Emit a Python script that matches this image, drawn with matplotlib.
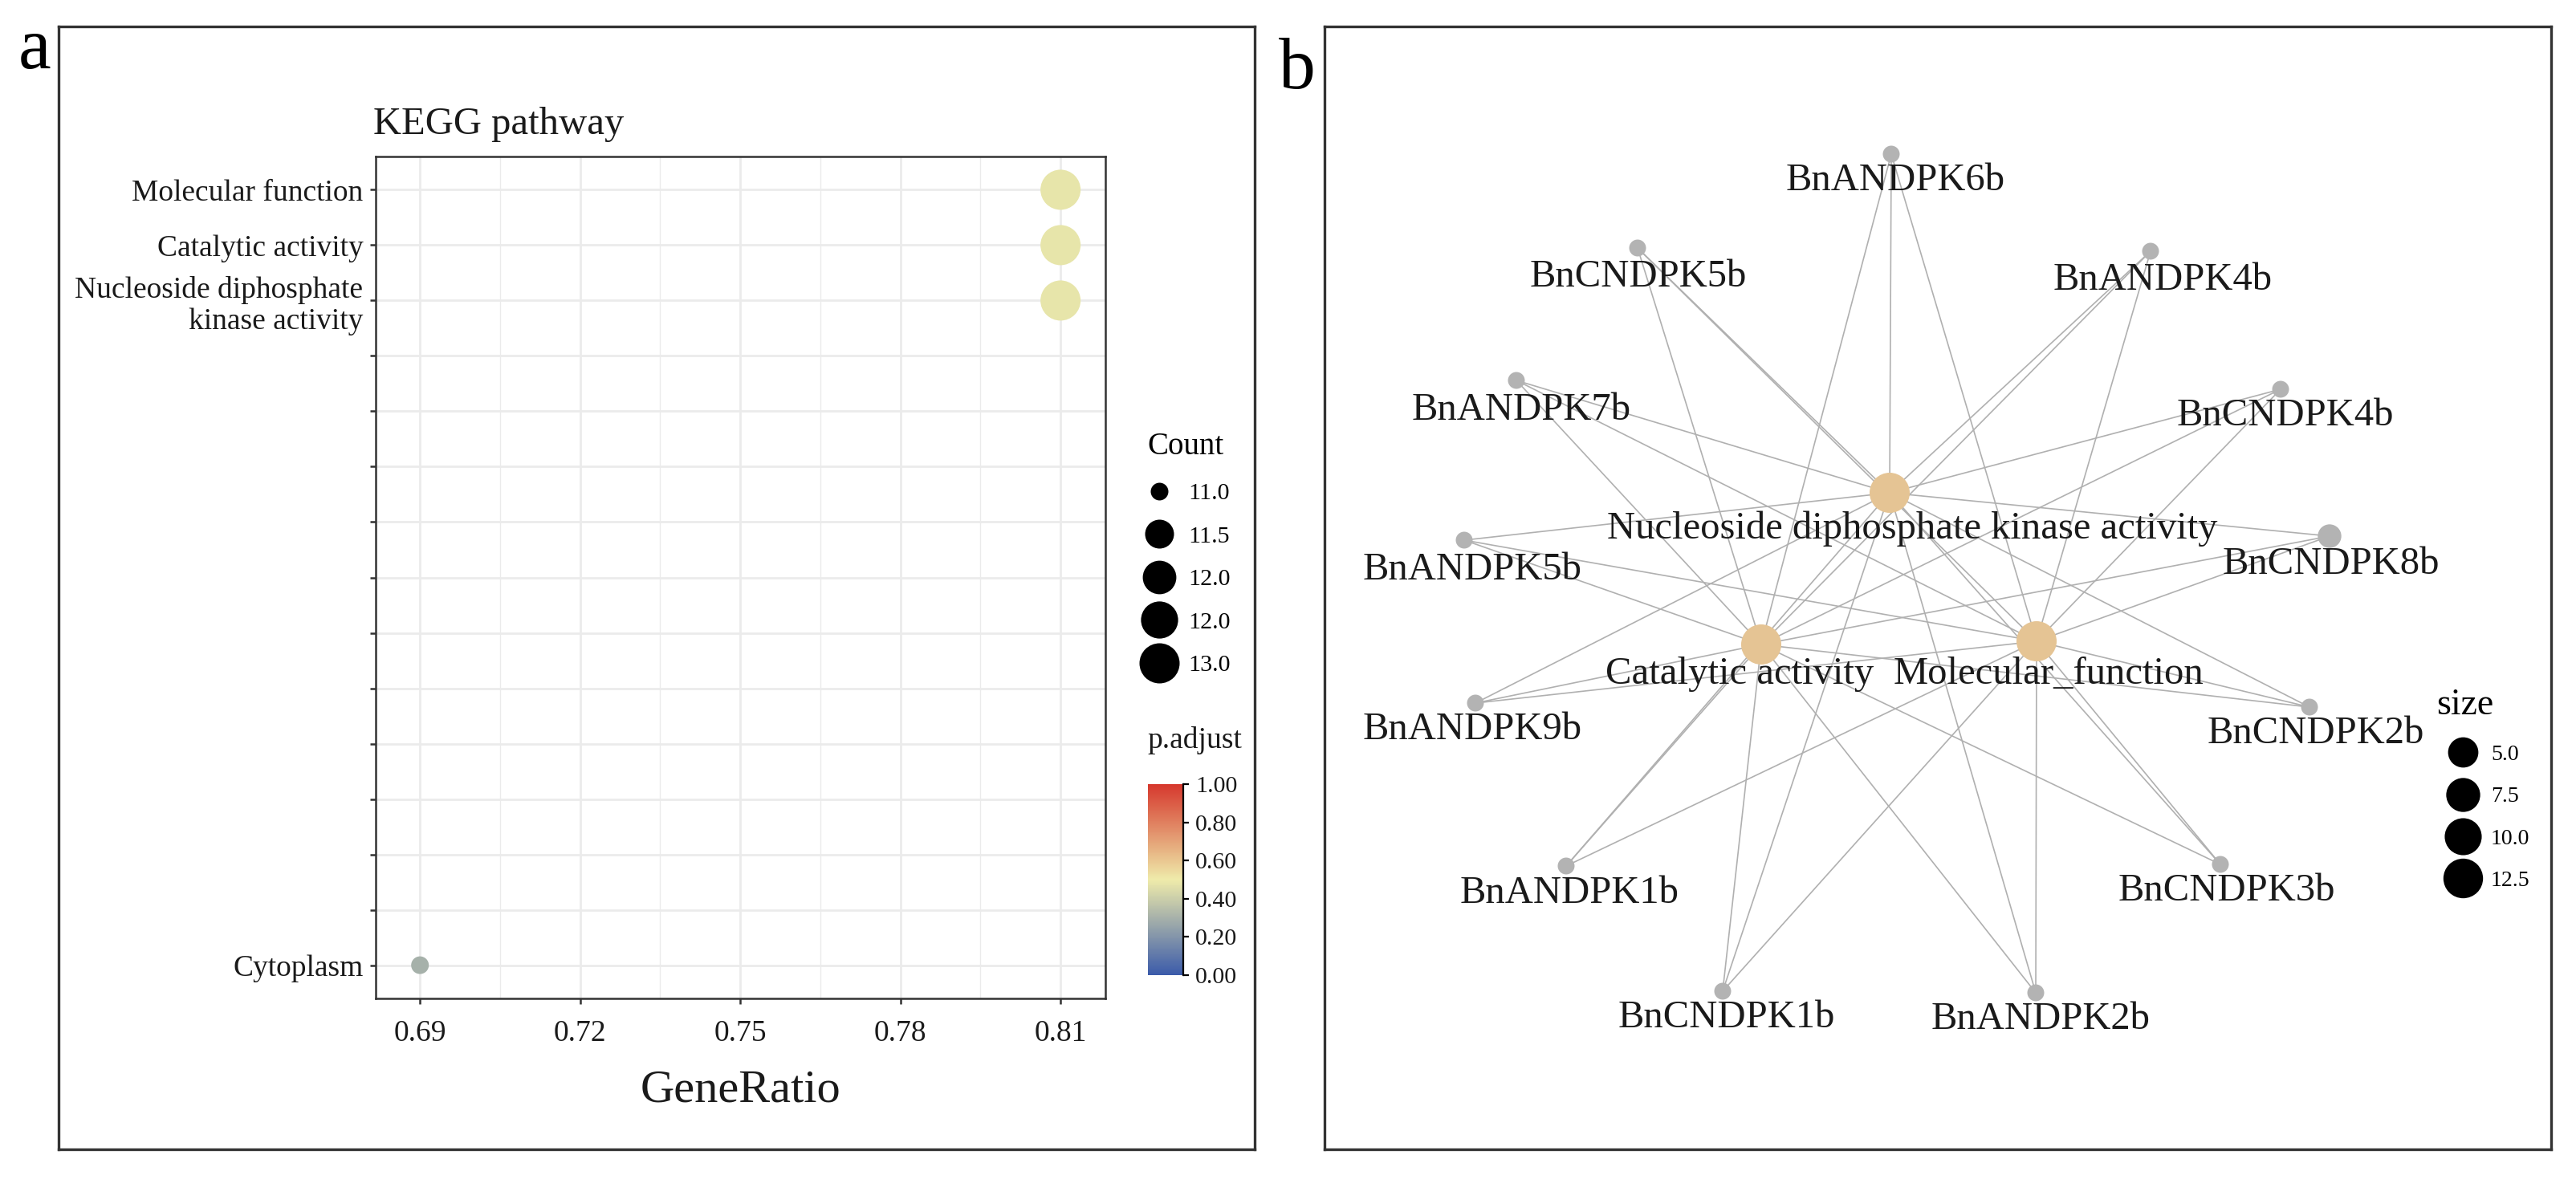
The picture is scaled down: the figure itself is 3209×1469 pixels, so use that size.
import numpy as np
import matplotlib
matplotlib.use("Agg")
import matplotlib.pyplot as plt
from matplotlib.colors import LinearSegmentedColormap
from matplotlib.lines import Line2D
from matplotlib.collections import LineCollection

plt.rcParams['font.family'] = ['Liberation Serif', 'DejaVu Serif']

# ---- panel a: KEGG dot plot ----
term_labels = ["Molecular function", "Catalytic activity",
               "Nucleoside diphosphate\nkinase activity"] + [""] * 11 + ["Cytoplasm"]
dot_terms = ["Molecular function", "Catalytic activity",
             "Nucleoside diphosphate\nkinase activity", "Cytoplasm"]
gene_ratio = [0.81, 0.81, 0.81, 0.69]
gene_count = [13, 13, 13, 11]
p_adjust = [0.48, 0.48, 0.48, 0.30]
x_ticks = [0.69, 0.72, 0.75, 0.78, 0.81]
count_breaks = [11.0, 11.5, 12.0, 12.5, 13.0]
count_labels = ["11.0", "11.5", "12.0", "12.0", "13.0"]
padj_ticks = [0.0, 0.2, 0.4, 0.6, 0.8, 1.0]

# ---- panel b: gene-concept network ----
hub_names = ["Nucleoside diphosphate kinase activity", "Catalytic activity", "Molecular_function"]
hub_x = [-0.06, -1.66, 1.77]
hub_y = [0.86, -1.03, -0.99]
hub_size = [13, 13, 13]
hub_label_x = [0.22, -1.93, 1.92]
hub_label_y = [0.41, -1.40, -1.40]

gene_names = ["BnANDPK6b", "BnCNDPK5b", "BnANDPK4b", "BnANDPK7b", "BnCNDPK4b",
              "BnANDPK5b", "BnCNDPK8b", "BnANDPK9b", "BnCNDPK2b", "BnANDPK1b",
              "BnCNDPK3b", "BnCNDPK1b", "BnANDPK2b"]
gene_x = [-0.04, -3.20, 3.19, -4.71, 4.81, -5.36, 5.42, -5.22, 5.17, -4.09, 4.06, -2.14, 1.76]
gene_y = [5.08, 3.91, 3.87, 2.26, 2.15, 0.27, 0.32, -1.76, -1.81, -3.79, -3.77, -5.35, -5.37]
gene_size = [1, 1, 1, 1, 1, 1, 2, 1, 1, 1, 1, 1, 1]
gene_label_x = [0.01, -3.19, 3.34, -4.65, 4.87, -5.26, 5.44, -5.26, 5.25, -4.05, 4.14, -2.09, 1.82]
gene_label_y = [4.75, 3.55, 3.51, 1.89, 1.82, -0.10, -0.03, -2.09, -2.14, -4.13, -4.10, -5.68, -5.70]
size_breaks = [5.0, 7.5, 10.0, 12.5]
size_labels = ["5.0", "7.5", "10.0", "12.5"]

W, H, DPI = 3209, 1469, 200
PX = DPI / 72.0
TXT = "#1a1a1a"
EDGE = "#333333"


def rect(x0, y0, x1, y1):
    return [x0 / W, 1 - y1 / H, (x1 - x0) / W, (y1 - y0) / H]


def count_diam(c):
    return (22 + 28 * np.sqrt((np.asarray(c, float) - 11) / 2)) / PX


def node_diam(v):
    return (21 + 29 * np.sqrt((np.asarray(v, float) - 1) / 12)) / PX


cmap = LinearSegmentedColormap.from_list("padj", ["#3B5BAA", "#EFEBAA", "#D6382D"])

fig = plt.figure(figsize=(W / DPI, H / DPI), dpi=DPI)

# panel a frame
frame = fig.add_axes(rect(73, 33, 1563, 1432), zorder=0)
frame.set_xticks([])
frame.set_yticks([])
for s in frame.spines.values():
    s.set_color(EDGE)
    s.set_linewidth(1.2)

ax = fig.add_axes(rect(468, 195, 1377, 1244), zorder=1)
ys = [term_labels.index(t) for t in dot_terms]
sc = ax.scatter(gene_ratio, ys, s=count_diam(gene_count) ** 2, c=p_adjust,
                cmap=cmap, vmin=0, vmax=1, edgecolors="none", zorder=3)
ax.set_yticks(range(len(term_labels)))
ax.set_yticklabels(term_labels)
ax.set_ylim(len(term_labels) - 0.4, -0.6)
ax.set_xticks(x_ticks)
ax.set_xticklabels([f"{v:.2f}" for v in x_ticks])
ax.set_xticks([(a + b) / 2 for a, b in zip(x_ticks[:-1], x_ticks[1:])], minor=True)
ax.set_xlim(0.6817, 0.8184)
ax.grid(which="major", color="#EBEBEB", linewidth=1.0, zorder=0)
ax.grid(which="minor", axis="x", color="#EBEBEB", linewidth=0.5, zorder=0)
ax.set_axisbelow(True)
ax.tick_params(which="major", length=2.6, width=0.9, color=EDGE, labelsize=13.5,
               labelcolor=TXT, pad=3)
ax.tick_params(axis="x", pad=7)
ax.tick_params(which="minor", length=0)
for s in ax.spines.values():
    s.set_color(EDGE)
    s.set_linewidth(0.9)
ax.set_xlabel("GeneRatio", fontsize=21, color=TXT, labelpad=10)
ax.text(-0.003, 1 + 40 / 1049, "KEGG pathway", transform=ax.transAxes,
        ha="left", va="center", fontsize=17.5, color=TXT)

handles = [Line2D([], [], marker="o", linestyle="", markersize=d, color="black",
                  markeredgewidth=0) for d in count_diam(count_breaks)]
fig.legend(handles, count_labels, title="Count", loc="upper left",
           bbox_to_anchor=(1429 / W, 1 - 538 / H), frameon=False, fontsize=10.8,
           title_fontsize=14, handlelength=1.0, handletextpad=0.7, labelspacing=0.88,
           borderpad=0, borderaxespad=0, alignment="left")

fig.text(1429 / W, 1 - 923 / H, "p.adjust", ha="left", va="center", fontsize=13.5, color=TXT)
cax = fig.add_axes(rect(1430, 977, 1474, 1215))
cb = fig.colorbar(sc, cax=cax, ticks=padj_ticks)
cb.ax.set_yticklabels([f"{v:.2f}" for v in padj_ticks])
cb.outline.set_visible(False)
cax.spines["right"].set_visible(True)
cax.spines["right"].set_color("black")
cax.spines["right"].set_linewidth(0.8)
cax.tick_params(length=2.5, width=0.8, color="black", labelsize=10.8, labelcolor=TXT, pad=3)

# panel b network
axb = fig.add_axes(rect(1650, 33, 3178, 1432), zorder=0)
axb.set_xlim(-7.10, 8.18)
axb.set_ylim(-7.32, 6.67)
axb.set_xticks([])
axb.set_yticks([])
for s in axb.spines.values():
    s.set_color(EDGE)
    s.set_linewidth(1.2)

segs = [[(gx, gy), (hx, hy)] for gx, gy in zip(gene_x, gene_y) for hx, hy in zip(hub_x, hub_y)]
axb.add_collection(LineCollection(segs, colors="#B0B0B0", linewidths=0.6, zorder=1))
axb.scatter(gene_x, gene_y, s=node_diam(gene_size) ** 2, color="#B3B3B3",
            edgecolors="none", zorder=2)
axb.scatter(hub_x, hub_y, s=node_diam(hub_size) ** 2, color="#E5C494",
            edgecolors="none", zorder=2)
for name, x, y in zip(gene_names, gene_label_x, gene_label_y):
    axb.text(x, y, name, ha="center", va="center", fontsize=17.5, color=TXT, zorder=3)
for name, x, y in zip(hub_names, hub_label_x, hub_label_y):
    axb.text(x, y, name, ha="center", va="center", fontsize=17.5, color=TXT, zorder=3)

handles_b = [Line2D([], [], marker="o", linestyle="", markersize=d, color="black",
                    markeredgewidth=0) for d in node_diam(size_breaks)]
axb.legend(handles_b, size_labels, title="size", loc="upper left",
           bbox_to_anchor=(3035 / W, 1 - 858 / H), bbox_transform=fig.transFigure,
           frameon=False, fontsize=10, title_fontsize=16.5, handlelength=2.4,
           handletextpad=0.05, labelspacing=0.97, borderpad=0, borderaxespad=0,
           alignment="left")

fig.text(23 / W, 1 - 85 / H, "a", ha="left", va="baseline", fontsize=33, color="black")
fig.text(1593 / W, 1 - 110 / H, "b", ha="left", va="baseline", fontsize=33, color="black")

fig.savefig("out.png", dpi=DPI, facecolor="white")
